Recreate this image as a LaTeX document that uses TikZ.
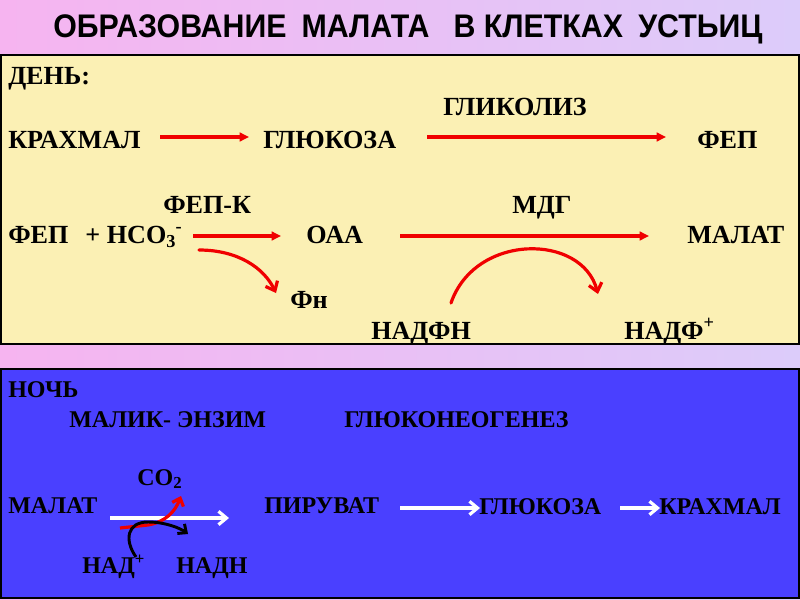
\documentclass[tikz,border=0pt]{standalone}
\usepackage{fontspec}
\setmainfont{Liberation Serif}
\newfontfamily\arialf{Liberation Sans}
\usetikzlibrary{arrows.meta}
\definecolor{bgl}{RGB}{246,180,240}
\definecolor{bgr}{RGB}{220,204,250}
\definecolor{dayy}{RGB}{251,240,180}
\definecolor{nightb}{RGB}{74,64,255}
\definecolor{arrred}{RGB}{240,0,0}
\newcommand{\subsupmin}{\textsubscript{3}\kern-0.5pt\textsuperscript{-}}
\begin{document}
\begin{tikzpicture}[x=0.75pt,y=-0.75pt,
  lbl/.style={anchor=base west, inner sep=0pt, font=\fontsize{19.6}{22}\selectfont\bfseries},
  nlbl/.style={anchor=base west, inner sep=0pt, font=\fontsize{18}{20}\selectfont\bfseries},
  redarr/.style={draw=arrred, line width=2.4pt, -{Triangle[length=7pt,width=6.5pt]}},
  redcurve/.style={draw=arrred, line width=2.4pt, line cap=round, -{Straight Barb[length=6pt,width=10pt,line width=2.4pt]}},
  whitearr/.style={draw=white, line width=2.4pt, -{Straight Barb[length=6pt,width=10pt,line width=2.4pt]}},
  blackcurve/.style={draw=black, line width=2.2pt, -{Straight Barb[length=5pt,width=9pt,line width=2.2pt]}},
  panel/.style={draw=black, line width=0.8pt}]
\useasboundingbox (0,0) rectangle (800,600);
\shade[left color=bgl, right color=bgr] (0,0) rectangle (800,600);
% title
\node[anchor=base west, inner sep=0pt] (title) at (53,37)
  {\resizebox{532pt}{\height}{\arialf\bfseries\fontsize{24.5}{30}\selectfont ОБРАЗОВАНИЕ\hspace{0.5em}МАЛАТА\hspace{0.8em}В КЛЕТКАХ\hspace{0.5em}УСТЬИЦ}};
% panels
\filldraw[panel, fill=dayy] (1,55) rectangle (799,344);
\filldraw[panel, fill=nightb] (1,369) rectangle (799,598);
% day texts
\node[lbl] (den) at (8,84) {ДЕНЬ:};
\node[lbl] (glikoliz) at (443,115) {ГЛИКОЛИЗ};
\node[lbl] (krahmal) at (8,148) {КРАХМАЛ};
\node[lbl] (glukoza) at (263,148) {ГЛЮКОЗА};
\node[lbl] (fep1) at (697,148) {ФЕП};
\node[lbl] (fepk) at (163,213) {ФЕП-К};
\node[lbl] (mdg) at (512,213) {МДГ};
\node[lbl] (fep2) at (8,243) {ФЕП\hspace{0.4em} + НСО\subsupmin};
\node[lbl] (oaa) at (306,243) {ОАА};
\node[lbl] (malat1) at (687,243) {МАЛАТ};
\node[lbl] (fn) at (290,308) {Фн};
\node[lbl] (nadfh) at (371,339) {НАДФН};
\node[lbl] (nadf) at (624,339) {НАДФ\textsuperscript{+}};
% day arrow ends
\coordinate (a1s) at (160,137); \coordinate (a1e) at (249,137);
\coordinate (a2s) at (427,137); \coordinate (a2e) at (666,137);
\coordinate (a3s) at (193,236); \coordinate (a3e) at (281,236);
\coordinate (a4s) at (400,236); \coordinate (a4e) at (649,236);
\coordinate (c1s) at (199,250); \coordinate (c1e) at (276,293);
\coordinate (c2s) at (451,303); \coordinate (c2e) at (598,294);
\draw[redarr] (a1s) -- (a1e);
\draw[redarr] (a2s) -- (a2e);
\draw[redarr] (a3s) -- (a3e);
\draw[redarr] (a4s) -- (a4e);
\draw[redcurve] (c1s) .. controls (238,250) and (264,268) .. (c1e);
\draw[redcurve] (c2s) .. controls (475,233) and (582,233) .. (c2e);
% night texts
\node[nlbl] (noch) at (8,397) {НОЧЬ};
\node[nlbl] (malik) at (69,427) {МАЛИК- ЭНЗИМ};
\node[nlbl] (glukoneo) at (344,427) {ГЛЮКОНЕОГЕНЕЗ};
\node[nlbl] (co2) at (137,485) {СО\textsubscript{2}};
\node[nlbl] (malat2) at (8,513) {МАЛАТ};
\node[nlbl] (piruvat) at (264,513) {ПИРУВАТ};
\node[nlbl] (glukoza2) at (479,514) {ГЛЮКОЗА};
\node[nlbl] (krahmal2) at (659,514) {КРАХМАЛ};
\node[nlbl] (nad) at (82,573) {НАД\textsuperscript{+}};
\node[nlbl] (nadh) at (176,573) {НАДН};
% night arrows
\coordinate (w1s) at (110,518); \coordinate (w1e) at (229,518);
\coordinate (w2s) at (400,508); \coordinate (w2e) at (480,508);
\coordinate (w3s) at (620,508); \coordinate (w3e) at (660,508);
\coordinate (rs) at (120,528); \coordinate (re) at (181,496);
\coordinate (bs) at (136,557); \coordinate (be) at (188,534);
\draw[whitearr] (w1s) -- (w1e);
\draw[whitearr] (w2s) -- (w2e);
\draw[whitearr] (w3s) -- (w3e);
\draw[draw=arrred, line width=2.4pt, -{Straight Barb[length=5pt,width=9pt,line width=2.4pt]}]
  (rs) -- (148,525) .. controls (165,522) and (175,512) .. (re);
\draw[blackcurve] (bs) .. controls (124,540) and (127,522) .. (148,522) .. controls (165,522) and (180,528) .. (be);
\end{tikzpicture}
\end{document}
